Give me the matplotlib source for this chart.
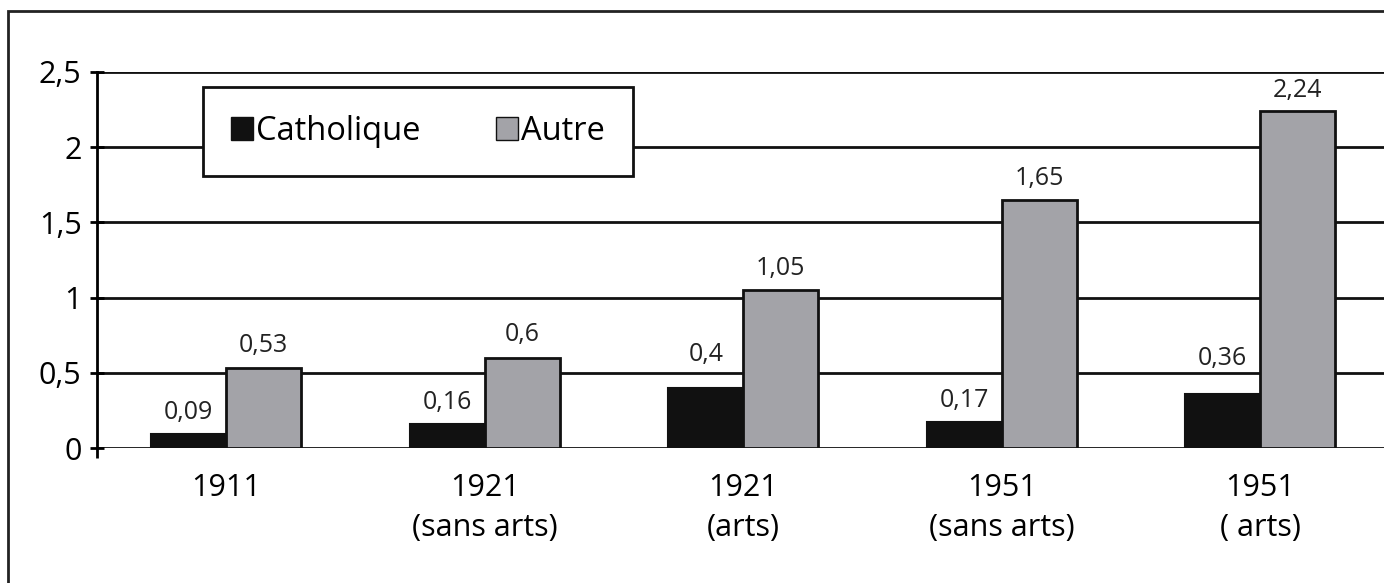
"""Grouped bar chart: Catholique vs Autre, 1911-1951."""

import matplotlib
matplotlib.use("Agg")
import matplotlib.pyplot as plt
import numpy as np
from matplotlib.patches import Patch, Rectangle

categories = ["1911", "1921\n(sans arts)", "1921\n(arts)", "1951\n(sans arts)", "1951\n( arts)"]
catholique = [0.09, 0.16, 0.4, 0.17, 0.36]
autre = [0.53, 0.6, 1.05, 1.65, 2.24]
yticks = [0, 0.5, 1, 1.5, 2, 2.5]
ytick_labels = ["0", "0,5", "1", "1,5", "2", "2,5"]

# label offsets above the bar tops (points), as placed in the source chart
cat_offsets = [11, 11, 19, 11, 21]
autre_offsets = [12, 12, 11, 11, 10]

BLACK = "#111111"
GRAY = "#a3a3a8"

plt.rcParams["font.family"] = ["Open Sans", "DejaVu Sans"]

fig = plt.figure(figsize=(13.84, 5.83), dpi=100)
fig.patch.set_facecolor("white")
ax = fig.add_axes([97 / 1384, 135 / 583, 1292.5 / 1384, 376 / 583])

# figure frame (left + top visible, rest cropped)
fig.patches.append(Rectangle((8 / 1384, -0.1), 1.2, 0.1 + (583 - 11) / 583,
                             transform=fig.transFigure, fill=False,
                             edgecolor="#222222", linewidth=2))

x = np.arange(len(categories))
w = 0.29
b1 = ax.bar(x - w / 2, catholique, w, color=BLACK, edgecolor=BLACK, linewidth=1.5, zorder=3)
b2 = ax.bar(x + w / 2, autre, w, color=GRAY, edgecolor=BLACK, linewidth=2, zorder=3)


def fmt(v):
    return f"{v:g}".replace(".", ",")


for bars, vals, offs in ((b1, catholique, cat_offsets), (b2, autre, autre_offsets)):
    for rect, v, off in zip(bars, vals, offs):
        ax.annotate(fmt(v), (rect.get_x() + rect.get_width() / 2, v),
                    xytext=(0, off), textcoords="offset points",
                    ha="center", va="baseline", fontsize=18, color="#222222")

ax.set_xlim(-0.5, 4.5)
ax.set_ylim(0, 2.5)
ax.set_yticks(yticks)
ax.set_yticklabels(ytick_labels, fontsize=22)
ax.set_xticks(x)
ax.set_xticklabels(categories, fontsize=22, linespacing=1.45, va="top")
ax.tick_params(axis="x", length=0, pad=18)
ax.tick_params(axis="y", length=10, width=2, pad=6, direction="inout")
ax.set_xticks([-0.5], minor=True)
ax.tick_params(axis="x", which="minor", length=7, width=2, direction="out")

for s in ("top", "right", "bottom"):
    ax.spines[s].set_visible(False)
ax.spines["left"].set_linewidth(2)
ax.yaxis.grid(True, color="#111111", linewidth=2, zorder=1)
ax.set_axisbelow(True)

handles = [Patch(facecolor=BLACK, edgecolor=BLACK, label="Catholique"),
           Patch(facecolor=GRAY, edgecolor=BLACK, label="Autre")]
leg = ax.legend(handles=handles, loc="upper left", bbox_to_anchor=(0.082, 0.96),
                ncol=2, fontsize=23.5, frameon=True, fancybox=False,
                borderaxespad=0, borderpad=0.85, handlelength=0.68, handleheight=0.68,
                handletextpad=0.1, columnspacing=2.3)
leg.get_frame().set_edgecolor("#111111")
leg.get_frame().set_linewidth(2)
leg.get_frame().set_alpha(1)

fig.savefig("out.png", dpi=100, facecolor="white")
plt.close(fig)
